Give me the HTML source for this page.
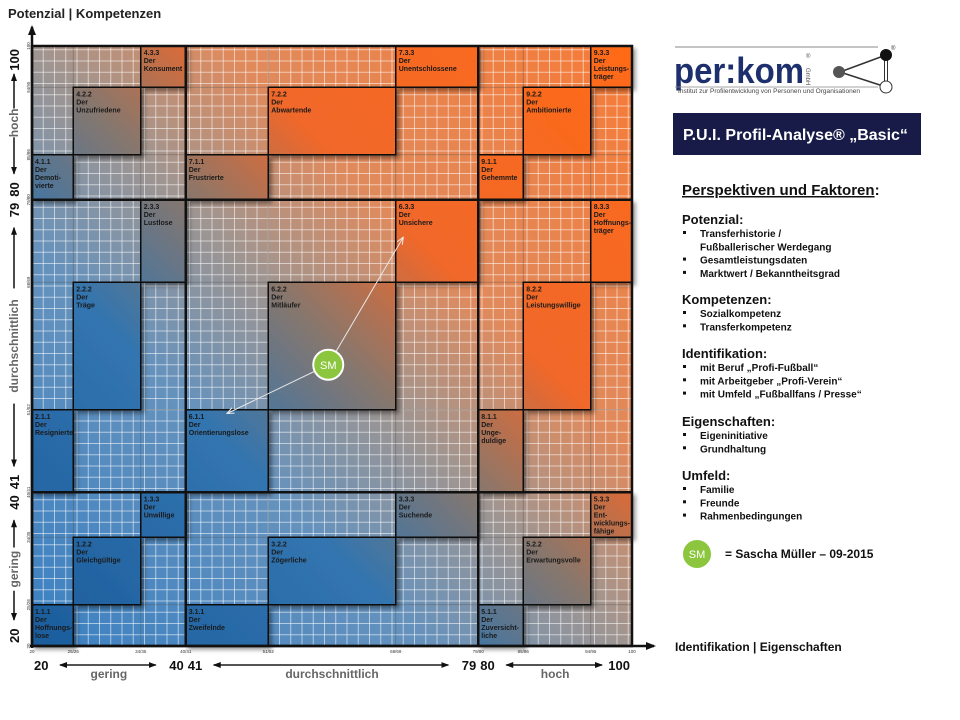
<!DOCTYPE html>
<html><head><meta charset="utf-8">
<style>
html,body{margin:0;padding:0;background:#fff;}
svg{display:block;font-family:"Liberation Sans",sans-serif;}
.bx{font-family:"Liberation Sans Narrow","Liberation Sans",sans-serif;font-weight:bold;font-size:7px;fill:#1a1a1a;}
.rt{font-weight:bold;fill:#111;}
</style></head>
<body>
<svg id="chart" width="960" height="720" viewBox="0 0 960 720">
<defs>
<linearGradient id="bgGrad" gradientUnits="userSpaceOnUse" x1="32" y1="646" x2="632" y2="46">
<stop offset="0" stop-color="#3a80c2"/><stop offset="0.33" stop-color="#6592bd"/><stop offset="0.5" stop-color="#a09590"/><stop offset="0.66" stop-color="#e08a5c"/><stop offset="1" stop-color="#f77a36"/>
</linearGradient>
<linearGradient id="boxGrad" gradientUnits="userSpaceOnUse" x1="32" y1="646" x2="632" y2="46">
<stop offset="0" stop-color="#1c5c9c"/><stop offset="0.33" stop-color="#3275b0"/><stop offset="0.5" stop-color="#86776e"/><stop offset="0.66" stop-color="#f0682a"/><stop offset="1" stop-color="#ff6a18"/>
</linearGradient>
<filter id="sh" x="-20%" y="-20%" width="150%" height="150%"><feDropShadow dx="3" dy="3" stdDeviation="2" flood-color="#000" flood-opacity="0.4"/></filter>
<marker id="ah" markerUnits="userSpaceOnUse" markerWidth="10" markerHeight="10" refX="8" refY="5" orient="auto"><path d="M0,1 L10,5 L0,9 z" fill="#111"/></marker>
<marker id="ahs" markerUnits="userSpaceOnUse" markerWidth="8" markerHeight="8" refX="7" refY="4" orient="auto"><path d="M0,1 L8,4 L0,7 z" fill="#111"/></marker>
<marker id="aw" markerUnits="userSpaceOnUse" markerWidth="8" markerHeight="8" refX="7" refY="4" orient="auto"><path d="M0,1 L7,4 L0,7" fill="none" stroke="#eee" stroke-width="1"/></marker>
</defs>
<text x="8" y="18" font-size="13" font-weight="bold" fill="#222">Potenzial | Kompetenzen</text>
<g id="plot"></g>
<g id="axes"></g>

<!-- right panel -->
<g>
<line x1="675" y1="47" x2="878" y2="47" stroke="#888" stroke-width="1"/>
<text x="674" y="83" font-size="36" font-weight="bold" fill="#1e2f6e" textLength="130" lengthAdjust="spacingAndGlyphs">per:kom</text>
<text x="806" y="68" font-size="6" fill="#555" transform="rotate(90 806 68)">GmbH</text>
<text x="806" y="58" font-size="6" fill="#555">®</text>
<line x1="675" y1="87" x2="878" y2="87" stroke="#888" stroke-width="0.8"/>
<text x="678" y="93" font-size="6.3" fill="#444" textLength="182" lengthAdjust="spacingAndGlyphs">Institut zur Profilentwicklung von Personen und Organisationen</text>
<line x1="840" y1="72" x2="886" y2="55" stroke="#333" stroke-width="1.5"/>
<line x1="840" y1="72" x2="886" y2="87" stroke="#333" stroke-width="1.5"/>
<line x1="886" y1="55" x2="886" y2="87" stroke="#333" stroke-width="4"/>
<line x1="886" y1="55" x2="886" y2="87" stroke="#fff" stroke-width="2"/>
<circle cx="839" cy="72" r="6" fill="#555"/>
<circle cx="886" cy="55" r="6" fill="#111"/>
<circle cx="886" cy="87" r="6" fill="#fff" stroke="#333"/>
<text x="891" y="50" font-size="6" fill="#333">®</text>
</g>
<rect x="673" y="113" width="248" height="42" fill="#181b48"/>
<text x="683" y="140" font-size="16" font-weight="bold" fill="#fff">P.U.I. Profil-Analyse® „Basic“</text>
<g>
<text x="682" y="195" font-size="15" class="rt"><tspan text-decoration="underline">Perspektiven und Faktoren</tspan>:</text>
<g id="legendText"></g>
<circle cx="697" cy="554" r="15" fill="#8cc63f" stroke="#fff" stroke-width="2"/>
<text x="697" y="558" font-size="11" fill="#fff" text-anchor="middle">SM</text>
<text x="725" y="558" font-size="12" class="rt">= Sascha Müller – 09-2015</text>
</g>
<text x="675" y="651" font-size="12" class="rt">Identifikation | Eigenschaften</text>

<script>
// ---- data ----
const bounds = [20, 25.5, 34.5, 40.5, 51.5, 68.5, 79.5, 85.5, 94.5, 100];
const tickLabels = ["20","25/26","34/35","40/41","51/52","68/69","79/80","85/86","94/95","100"];
const boxCodes = ["4.3.3","4.2.2","4.1.1","7.3.3","7.2.2","7.1.1","9.3.3","9.2.2","9.1.1",
 "2.3.3","2.2.2","2.1.1","6.3.3","6.2.2","6.1.1","8.3.3","8.2.2","8.1.1",
 "1.3.3","1.2.2","1.1.1","3.3.3","3.2.2","3.1.1","5.3.3","5.2.2","5.1.1"];
const boxNames = [["Der","Konsument"],["Der","Unzufriedene"],["Der","Demoti-","vierte"],["Der","Unentschlossene"],["Der","Abwartende"],["Der","Frustrierte"],["Der","Leistungs-","träger"],["Der","Ambitionierte"],["Der","Gehemmte"],
 ["Der","Lustlose"],["Der","Träge"],["Der","Resignierte"],["Der","Unsichere"],["Der","Mitläufer"],["Der","Orientierungslose"],["Der","Hoffnungs-","träger"],["Der","Leistungswillige"],["Der","Unge-","duldige"],
 ["Der","Unwillige"],["Der","Gleichgültige"],["Der","Hoffnungs-","lose"],["Der","Suchende"],["Der","Zögerliche"],["Der","Zweifelnde"],["Der","Ent-","wicklungs-","fähige"],["Der","Erwartungsvolle"],["Der","Zuversicht-","liche"]];
const boxX0 = [34.5,25.5,20, 68.5,51.5,40.5, 94.5,85.5,79.5, 34.5,25.5,20, 68.5,51.5,40.5, 94.5,85.5,79.5, 34.5,25.5,20, 68.5,51.5,40.5, 94.5,85.5,79.5];
const boxX1 = [40.5,34.5,25.5, 79.5,68.5,51.5, 100,94.5,85.5, 40.5,34.5,25.5, 79.5,68.5,51.5, 100,94.5,85.5, 40.5,34.5,25.5, 79.5,68.5,51.5, 100,94.5,85.5];
const boxY0 = [94.5,85.5,79.5, 94.5,85.5,79.5, 94.5,85.5,79.5, 68.5,51.5,40.5, 68.5,51.5,40.5, 68.5,51.5,40.5, 34.5,25.5,20, 34.5,25.5,20, 34.5,25.5,20];
const boxY1 = [100,94.5,85.5, 100,94.5,85.5, 100,94.5,85.5, 79.5,68.5,51.5, 79.5,68.5,51.5, 79.5,68.5,51.5, 40.5,34.5,25.5, 40.5,34.5,25.5, 40.5,34.5,25.5];
const personX = [59.5];
const personY = [57.5];
const arrowToX = [69.5, 46];
const arrowToY = [74.5, 51];

// ---- axes ----
const X = v => 32 + (v - 20) * 7.5;
const Y = v => 646 - (v - 20) * 7.5;
const NS = "http://www.w3.org/2000/svg";
function mk(tag, attrs, parent, txt){const e=document.createElementNS(NS,tag);for(const k in attrs)e.setAttribute(k,attrs[k]);if(txt!==undefined)e.textContent=txt;parent.appendChild(e);return e;}
const plot = document.getElementById('plot');
const axes = document.getElementById('axes');

const bg = mk('rect',{x:X(20),y:Y(100),width:X(100)-X(20),height:Y(20)-Y(100),fill:'url(#bgGrad)'},plot);


const grid = mk('g',{stroke:'#fff','stroke-opacity':'0.55','stroke-width':'1'},plot);


for(let v=20+1.5; v<100; v+=1.5){
  mk('line',{x1:X(v),y1:Y(100),x2:X(v),y2:Y(20)},grid);
  mk('line',{x1:X(20),y1:Y(v),x2:X(100),y2:Y(v)},grid);
}
const sub = mk('g',{stroke:'#555','stroke-opacity':'0.5','stroke-width':'0.8'},plot);


bounds.forEach(b=>{mk('line',{x1:X(b),y1:Y(100),x2:X(b),y2:Y(20)},sub);mk('line',{x1:X(20),y1:Y(b),x2:X(100),y2:Y(b)},sub);});

boxCodes.forEach((c,i)=>{
  const g = mk('g',{},plot);
  
  
  const x=X(boxX0[i]), y=Y(boxY1[i]), w=X(boxX1[i])-x, h=Y(boxY0[i])-y;
  mk('rect',{x:x,y:y,width:w,height:h,fill:'url(#boxGrad)',stroke:'#111','stroke-width':'1.5',filter:'url(#sh)'},g);
  mk('text',{x:x+3,y:y+9,class:'bx'},g,c);
  boxNames[i].forEach((t,j)=>mk('text',{x:x+3,y:y+17+j*8,class:'bx'},g,t));
});

const maj = mk('g',{stroke:'#111','stroke-width':'2.5',fill:'none'},plot);


[40.5,79.5].forEach(b=>{mk('line',{x1:X(b),y1:Y(100),x2:X(b),y2:Y(20)},maj);mk('line',{x1:X(20),y1:Y(b),x2:X(100),y2:Y(b)},maj);});
mk('rect',{x:X(20),y:Y(100),width:X(100)-X(20),height:Y(20)-Y(100)},maj);

const ya = mk('line',{x1:X(20),y1:Y(20)+2,x2:X(20),y2:27,stroke:'#111','stroke-width':'2.5','marker-end':'url(#ah)'},axes);


const xa = mk('line',{x1:X(20)-2,y1:Y(20),x2:654,y2:Y(20),stroke:'#111','stroke-width':'2.5','marker-end':'url(#ah)'},axes);



bounds.forEach((b,i)=>{
  const tx = mk('text',{x:X(b),y:653,'font-size':'4.5','text-anchor':'middle',fill:'#333'},axes,tickLabels[i]);
  
  
  const ty = mk('text',{x:30,y:Y(b),'font-size':'4.5','text-anchor':'middle',fill:'#333',transform:`rotate(-90 30 ${Y(b)})`},axes,tickLabels[i]);
  
  
});

const rangeLo = [20, 41, 80];
const rangeHi = [40, 79, 100];
const rangeNames = ["gering","durchschnittlich","hoch"];
rangeLo.forEach((lo,i)=>{
  const hi = rangeHi[i];
  const g = mk('g',{},axes);
  
  
  const xl = X(lo===20?20:lo-0.5), xr = X(hi===100?100:hi+0.5);
  mk('text',{x:xl+2,y:670,'font-size':'13','font-weight':'bold',fill:'#111','text-anchor':'start'},g,String(lo));
  mk('text',{x:xr-2,y:670,'font-size':'13','font-weight':'bold',fill:'#111','text-anchor':'end'},g,String(hi));
  mk('line',{x1:xl+28,y1:665,x2:xr-30,y2:665,stroke:'#111','stroke-width':'1.3','marker-end':'url(#ahs)'},g);
  mk('line',{x1:xr-30,y1:665,x2:xl+28,y2:665,stroke:'#111','stroke-width':'1.3','marker-end':'url(#ahs)'},g);
  mk('text',{x:(xl+xr)/2,y:678,'font-size':'12','font-weight':'bold',fill:'#666','text-anchor':'middle'},g,rangeNames[i]);

  const g2 = mk('g',{},axes);
  
  
  const yb = Y(lo===20?20:lo-0.5), yt = Y(hi===100?100:hi+0.5);
  const cx = 14;
  mk('text',{x:cx+5,y:yb-3,'font-size':'13','font-weight':'bold',fill:'#111',transform:`rotate(-90 ${cx+5} ${yb-3})`},g2,String(lo));
  mk('text',{x:cx+5,y:yt+3,'font-size':'13','font-weight':'bold',fill:'#111','text-anchor':'end',transform:`rotate(-90 ${cx+5} ${yt+3})`},g2,String(hi));
  mk('line',{x1:cx,y1:yb-26,x2:cx,y2:yt+28,stroke:'#111','stroke-width':'1.3','marker-end':'url(#ahs)'},g2);
  mk('line',{x1:cx,y1:yt+28,x2:cx,y2:yb-26,stroke:'#111','stroke-width':'1.3','marker-end':'url(#ahs)'},g2);
  const my=(yb+yt)/2;
  mk('rect',{x:cx-7,y:my-(rangeNames[i].length*3.6),width:14,height:rangeNames[i].length*7.2,fill:'#fff'},g2);
  mk('text',{x:cx+4,y:my,'font-size':'12','font-weight':'bold',fill:'#666','text-anchor':'middle',transform:`rotate(-90 ${cx+4} ${my})`},g2,rangeNames[i]);
});

arrowToX.forEach((ax,i)=>{
  const l = mk('line',{x1:X(personX[0]),y1:Y(personY[0]),x2:X(ax),y2:Y(arrowToY[i]),stroke:'#e8e8e8','stroke-width':'1','marker-end':'url(#aw)'},plot);
  
  
});
const pm = mk('g',{},plot);


mk('circle',{cx:X(personX[0]),cy:Y(personY[0]),r:15,fill:'#8cc63f',stroke:'#fff','stroke-width':'2'},pm);
mk('text',{x:X(personX[0]),y:Y(personY[0])+4,'font-size':'11',fill:'#fff','text-anchor':'middle'},pm,'SM');

const lt = document.getElementById('legendText');
const legendHeads = ["Potenzial:","Kompetenzen:","Identifikation:","Eigenschaften:","Umfeld:"];
const legendHeadY = [224,304,358,426,480];
const legendItems = [["Transferhistorie /","Fußballerischer Werdegang","Gesamtleistungsdaten","Marktwert / Bekanntheitsgrad"],["Sozialkompetenz","Transferkompetenz"],["mit Beruf „Profi-Fußball“","mit Arbeitgeber „Profi-Verein“","mit Umfeld „Fußballfans / Presse“"],["Eigeninitiative","Grundhaltung"],["Familie","Freunde","Rahmenbedingungen"]];
legendHeads.forEach((h,i)=>{
  const g = mk('g',{},lt);
  
  
  mk('text',{x:682,y:legendHeadY[i],'font-size':'13',class:'rt'},g,h);
  legendItems[i].forEach((t,j)=>{
    const y = legendHeadY[i]+13+j*13.3;
    const cont = (i===0 && j===1);
    if(!cont) mk('rect',{x:683,y:y-6,width:3,height:3,fill:'#111'},g);
    mk('text',{x:700,y:y,'font-size':'10',class:'rt'},g,t);
  });
});
</script>
</svg>
</body></html>
